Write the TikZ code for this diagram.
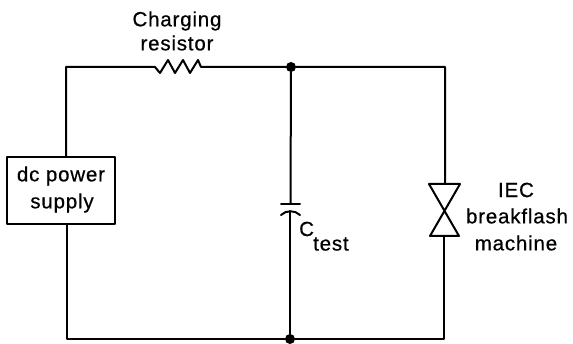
\documentclass[tikz,border=0pt]{standalone}
\usepackage{fontspec}
\setmainfont[LetterSpace=4,FakeBold=0.6]{Liberation Sans}
\begin{document}
\begin{tikzpicture}[x=1pt,y=-1pt,
  wire/.style={line width=2pt,line cap=round,line join=round},
  lab/.style={inner sep=0pt,font=\fontsize{20.5}{20.5}\selectfont,text=black,anchor=center},
  dot/.style={circle,fill=black,inner sep=0pt,minimum size=10pt}]
\useasboundingbox (0,0) rectangle (573,344);
\node[dot] (topdot) at (291,67) {};
\node[dot] (botdot) at (290,339) {};
\coordinate (tl) at (66,67);
\coordinate (bl) at (67,339);
\coordinate (tr) at (445,67);
\coordinate (br) at (444,339);
\coordinate (rl) at (155,67);
\coordinate (rr) at (201,67);
\node[draw,wire,minimum width=108pt,minimum height=67pt,inner sep=0pt] (supply) at (61,190.5) {};
\node[lab] (t1) at (61,176) {dc power};
\node[lab] (t2) at (62,203) {supply};
\draw[wire] (supply.north -| tl) -- (tl) -- (rl)
  -- (160,73) -- (168,60) -- (175,73) -- (183,60) -- (190,73) -- (198,60) -- (rr)
  -- (topdot) -- (tr) -- (445,184);
\draw[wire] (429,184) -- (460,184) -- (430,236) -- (459,236) -- cycle;
\draw[wire] (444,236) -- (br) -- (botdot) -- (bl) -- (supply.south -| bl);
\draw[wire] (topdot) -- (290.5,204);
\draw[wire] (281,204) -- (300,204);
\draw[wire] (281,215) .. controls (286,210) and (295,210) .. (300,215);
\draw[wire] (290,211) -- (botdot);
\node[lab] (c1) at (177,21) {Charging};
\node[lab] (c2) at (177,43) {resistor};
\node[lab,anchor=west] (c3) at (299,229) {C};
\node[lab,anchor=west] (c4) at (313,244) {test};
\node[lab] (m1) at (516,190) {IEC};
\node[lab] (m2) at (517,216) {breakflash};
\node[lab] (m3) at (516,243) {machine};
\end{tikzpicture}
\end{document}
